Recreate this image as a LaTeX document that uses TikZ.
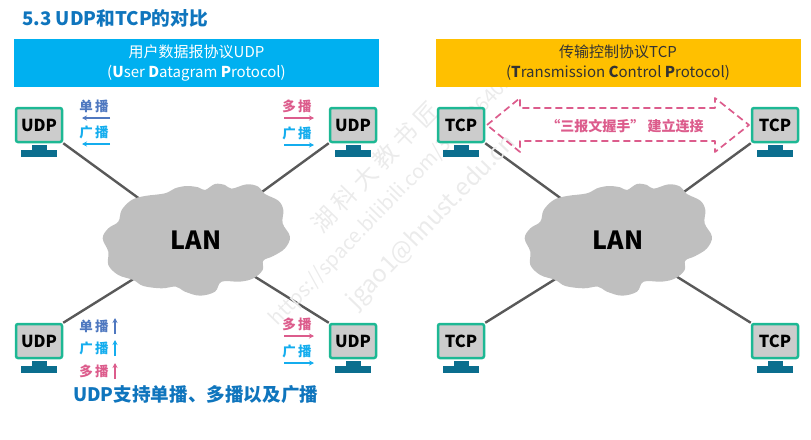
\documentclass[tikz,border=0pt]{standalone}
\usepackage{fontspec}
\setmainfont{Noto Sans CJK SC}
\usetikzlibrary{arrows.meta, backgrounds}
\definecolor{udpblue}{HTML}{00B0F0}
\definecolor{tcporange}{HTML}{FFC000}
\definecolor{titleblue}{HTML}{0F75BD}
\definecolor{screengreen}{HTML}{1DB894}
\definecolor{standteal}{HTML}{0B6E8E}
\definecolor{linkgray}{HTML}{595959}
\definecolor{cloudgray}{HTML}{BFBFBF}
\definecolor{uniblue}{HTML}{4F78C0}
\definecolor{bcastblue}{HTML}{14ADEE}
\definecolor{multipink}{HTML}{DC5C8C}
\tikzset{
  header/.style={minimum width=365, minimum height=48, inner sep=0pt, align=center, font=\fontsize{15}{20}\selectfont},
  screen/.style={draw=screengreen, line width=2.5pt, fill=gray!40, rounded corners=2pt, minimum width=46, minimum height=34, inner sep=0pt, font=\fontsize{16.5}{16.5}\selectfont\bfseries},
  lanname/.style={inner sep=0pt, font=\fontsize{25}{25}\selectfont\bfseries},
  link/.style={linkgray, line width=2.4pt},
  castlabel/.style={inner sep=0pt, font=\fontsize{13.5}{13.5}\selectfont\bfseries},
  castarrow/.style={-{Stealth[length=5pt,width=5pt]}, line width=1.2pt},
  watermark/.style={black!8, rotate=46, inner sep=0pt}
}
\begin{document}
\begin{tikzpicture}[x=1pt, y=-1pt]
  \useasboundingbox (0,0) rectangle (811,439);
  % faint diagonal marks
  \node[watermark, font=\fontsize{24}{24}\selectfont] (wmschool) at (375,167) {湖 科 大 教 书 匠};
  \node[watermark, font=\fontsize{20}{20}\selectfont] (wmurl) at (392,200) {https://space.bilibili.com/360996402};
  \node[watermark, font=\fontsize{24}{24}\selectfont] (wmmail) at (432,222) {jgao1@hnust.edu.cn};
  % title and headers
  \node[anchor=west, inner sep=0pt, text=titleblue, font=\fontsize{18.7}{18.7}\selectfont\bfseries] (title) at (22,18) {5.3 UDP和TCP的对比};
  \node[header, fill=udpblue, text=white] (udphead) at (196.5,63) {用户数据报协议UDP\\(\textbf{U}ser \textbf{D}atagram \textbf{P}rotocol)};
  \node[header, fill=tcporange, text=black!80] (tcphead) at (618,63) {传输控制协议TCP\\(\textbf{T}ransmission \textbf{C}ontrol \textbf{P}rotocol)};
  % clouds
  \foreach \dx in {90,512}
    \fill[cloudgray, shift={(\dx,180)}, x=0.3333pt, y=-0.3333pt] plot[smooth cycle, tension=0.6] coordinates {
      (165,48) (225,40) (255,25) (290,18) (325,22) (345,30) (375,12) (405,15) (425,26)
      (470,13) (505,20) (525,42) (565,62) (580,90) (578,130) (600,170) (585,205) (550,228)
      (520,242) (518,270) (490,295) (450,305) (395,305) (375,335) (330,347) (285,335)
      (258,320) (215,325) (160,318) (130,300) (85,285) (55,255) (55,215) (38,175)
      (55,145) (85,125) (95,90) (125,60)};
  \node[lanname] (lanl) at (196,240) {LAN};
  \node[lanname] (lanr) at (618,240) {LAN};
  % computers with their stands
  \foreach \name/\x/\y/\txt in {ua/39/125/UDP, ub/353/125/UDP, uc/39/341/UDP, ud/353/341/UDP,
                                 ta/461/125/TCP, tb/775/125/TCP, tc/461/341/TCP, td/775/341/TCP} {
    \node[screen] (\name) at (\x,\y) {\txt};
    \fill[standteal] (\x-7.5,\y+20) rectangle (\x+7.5,\y+25);
    \fill[standteal] (\x-18,\y+25) rectangle (\x+18,\y+32);
  }
  % links run behind the clouds
  \begin{pgfonlayer}{background}
    \draw[link] (ua.south east) -- (lanl);
    \draw[link] (ub.south west) -- (lanl);
    \draw[link] (uc.north east) -- (lanl);
    \draw[link] (ud.north west) -- (lanl);
    \draw[link] (ta.south east) -- (lanr);
    \draw[link] (tb.south west) -- (lanr);
    \draw[link] (tc.north east) -- (lanr);
    \draw[link] (td.north west) -- (lanr);
  \end{pgfonlayer}
  % horizontal cast labels
  \foreach \name/\txt/\col/\x/\y/\sx/\ex in {la/单\,播/uniblue/94/106/110/82, lb/广\,播/bcastblue/94/132/110/82,
                                              ra/多\,播/multipink/297/106/284/314, rb/广\,播/bcastblue/297/133/284/314,
                                              sa/多\,播/multipink/297/324/284/314, sb/广\,播/bcastblue/297/351/284/314} {
    \node[castlabel, text=\col] (\name) at (\x,\y) {\txt};
    \coordinate (\name s) at (\sx,\y+12);
    \coordinate (\name e) at (\ex,\y+12);
    \draw[castarrow, \col] (\name s) -- (\name e);
  }
  % upward cast labels
  \foreach \name/\txt/\col/\y in {ca/单\,播/uniblue/326, cb/广\,播/bcastblue/348, cc/多\,播/multipink/371} {
    \node[castlabel, text=\col] (\name) at (94,\y) {\txt};
    \coordinate (\name s) at (115,\y+8);
    \coordinate (\name e) at (115,\y-8);
    \draw[castarrow, \col] (\name s) -- (\name e);
  }
  % dashed two-way arrow
  \draw[multipink, line width=1.7pt, dash pattern=on 7pt off 4pt, line join=round]
    (487,125) -- (520,98) -- (520,108) -- (715,108) -- (715,98) -- (749,125)
    -- (715,152) -- (715,141) -- (520,141) -- (520,152) -- cycle;
  \node[inner sep=0pt, text=multipink, font=\fontsize{14}{14}\selectfont\bfseries] (shake) at (625,126) {“三报文握手” 建立连接};
  % closing line
  \node[anchor=west, inner sep=0pt, text=titleblue, font=\fontsize{18.6}{18.6}\selectfont\bfseries] (note) at (73,395) {UDP支持单播、多播以及广播};
\end{tikzpicture}
\end{document}
